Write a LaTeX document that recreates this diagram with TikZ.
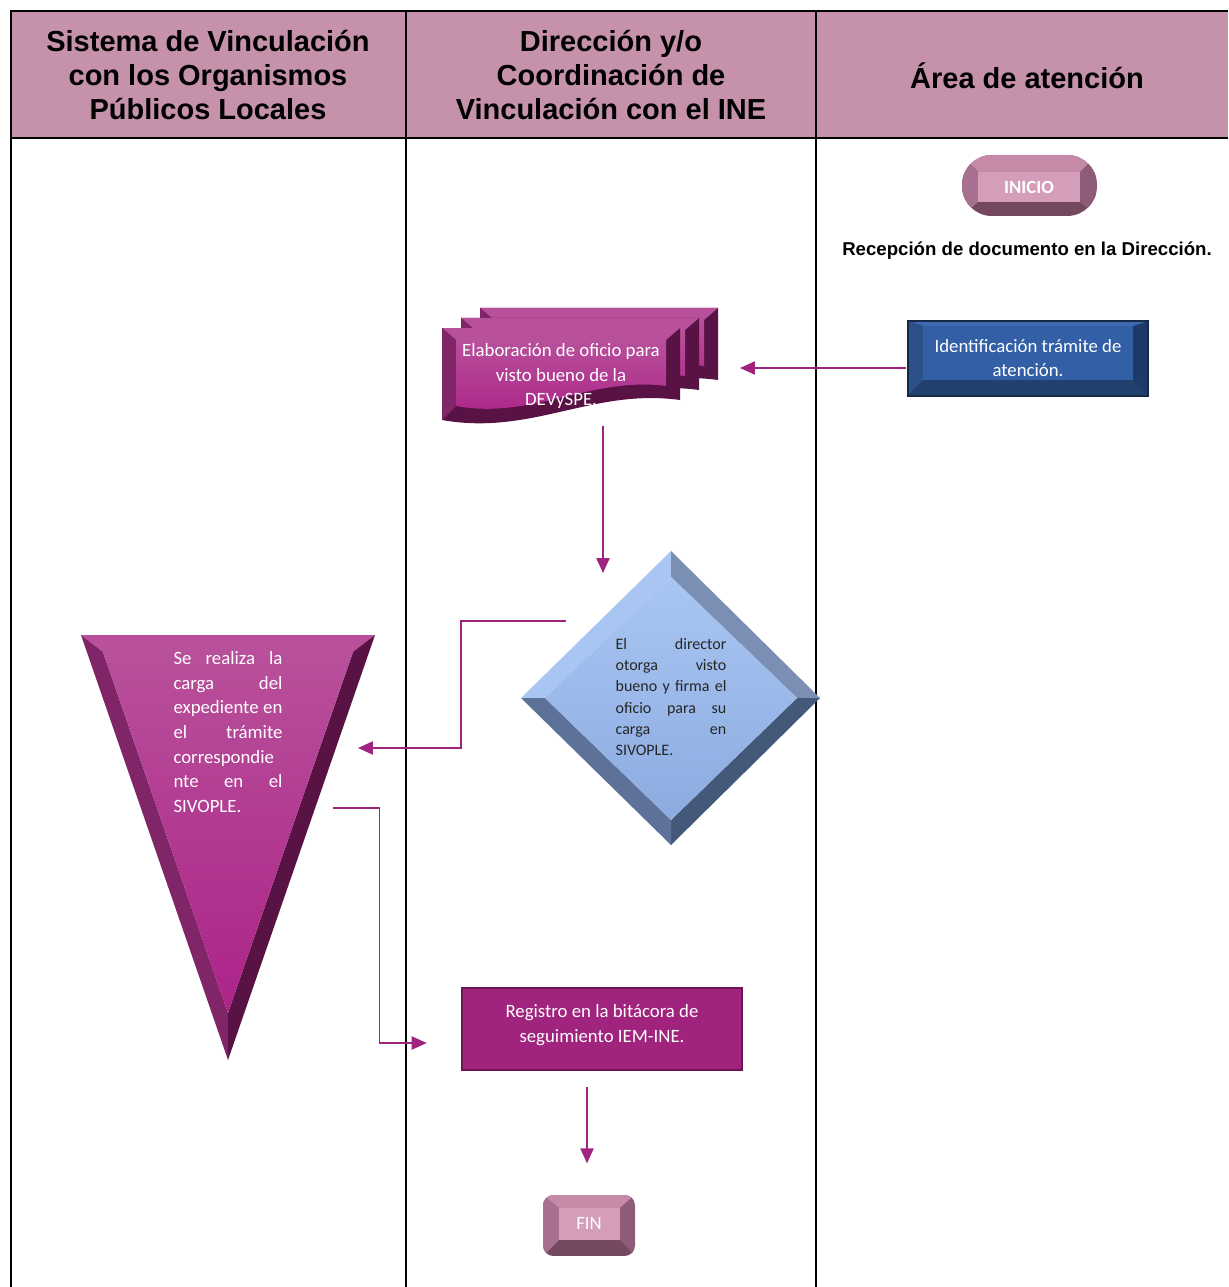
\documentclass[tikz,border=0pt]{standalone}
\usepackage{fontspec}
\setmainfont{Carlito}
\newfontfamily\headfont{Liberation Sans}
\usetikzlibrary{calc,arrows.meta}
\definecolor{headpink}{RGB}{197,145,171}
\definecolor{flowpink}{RGB}{160,35,127}
\definecolor{iniface}{RGB}{212,157,186}
\definecolor{initop}{RGB}{196,138,168}
\definecolor{inileft}{RGB}{167,112,144}
\definecolor{iniright}{RGB}{142,91,120}
\definecolor{inibot}{RGB}{116,72,95}
\definecolor{idface}{RGB}{51,95,166}
\definecolor{idtop}{RGB}{62,106,176}
\definecolor{idleft}{RGB}{44,81,137}
\definecolor{idright}{RGB}{31,58,102}
\definecolor{idbot}{RGB}{34,64,110}
\definecolor{magface}{RGB}{172,35,136}
\definecolor{magtop}{RGB}{184,80,155}
\definecolor{magleft}{RGB}{127,37,104}
\definecolor{magdark}{RGB}{88,18,68}
\definecolor{decface}{RGB}{140,171,224}
\definecolor{dectl}{RGB}{169,198,242}
\definecolor{dectr}{RGB}{123,143,181}
\definecolor{decbr}{RGB}{68,88,122}
\definecolor{decbl}{RGB}{94,113,153}
\definecolor{regfill}{RGB}{160,35,125}
\definecolor{regline}{RGB}{110,20,88}

\begin{document}
\begin{tikzpicture}[x=0.02cm,y=-0.02cm]
  \tikzstyle{head}=[font=\headfont\bfseries\fontsize{16.5}{19.3}\selectfont,align=center,inner sep=0pt]
  \tikzstyle{body}=[font=\fontsize{10.7}{14}\selectfont,text=white,align=center,inner sep=0pt]
  \tikzstyle{flow}=[draw=flowpink,line width=0.8pt,-{Triangle[length=8.5pt,width=7.5pt]}]

  \useasboundingbox (0,0) rectangle (1228,1287);

  \fill[headpink] (11,11) rectangle (1228,138);
  \draw[line width=1pt] (11,1287) -- (11,11) -- (1228,11);
  \draw[line width=1pt] (11,138) -- (1228,138);
  \draw[line width=1pt] (406,11) -- (406,1287);
  \draw[line width=1pt] (816,11) -- (816,1287);

  \node[head] (colsis) at (208,75) {Sistema de Vinculación\\con los Organismos\\Públicos Locales};
  \node[head] (coldir) at (611,75) {Dirección y/o\\Coordinación de\\Vinculación con el INE};
  \node[head] (colarea) at (1027,76) {Área de atención};

  % inicio
  \begin{scope}
    \clip[rounded corners=17pt] (962,155) rectangle (1097,216);
    \fill[inibot] (962,155) rectangle (1097,216);
    \fill[initop] (962,155) -- (1097,155) -- (1080,172) -- (978,172) -- cycle;
    \fill[inileft] (962,155) -- (978,172) -- (978,202) -- (962,216) -- cycle;
    \fill[iniright] (1097,155) -- (1080,172) -- (1080,202) -- (1097,216) -- cycle;
    \fill[iniface] (978,172) rectangle (1080,202);
  \end{scope}
  \node[body,font=\bfseries\fontsize{10.6}{12}\selectfont] (inicio) at (1029,187) {INICIO};

  \node[inner sep=0pt,font=\headfont\bfseries\fontsize{10.6}{12}\selectfont] (recep) at (1027,251) {Recepción de documento en la Dirección.};

  % identificacion
  \fill[idright] (908,321) rectangle (1148,396);
  \fill[idtop] (908,321) -- (1148,321) -- (1133,326) -- (923,326) -- cycle;
  \fill[idleft] (908,321) -- (923,326) -- (923,380) -- (908,396) -- cycle;
  \fill[idbot] (908,396) -- (923,380) -- (1133,380) -- (1148,396) -- cycle;
  \fill[idface] (923,326) rectangle (1133,380);
  \draw[idright!70!black,line width=0.6pt] (908,321) rectangle (1148,396);
  \node[body,font=\fontsize{10.7}{13.6}\selectfont,minimum width=4.8cm,minimum height=1.5cm] (ident) at (1028,358) {Identificación trámite de\\atención.};

  % elaboracion
  \foreach \dx/\dy in {38/-20,19/-10,0/0}{
    \begin{scope}[shift={(442+\dx,328+\dy)}]
      \fill[magdark] (0,0) -- (238,0) -- (238,72) .. controls (150,60) and (90,108) .. (0,92) -- cycle;
      \fill[magtop] (0,0) -- (238,0) -- (224,12) -- (14,12) -- cycle;
      \fill[magleft] (0,0) -- (14,12) -- (14,78) -- (0,92) -- cycle;
      \shade[top color=magtop,bottom color=magface] (14,12) -- (224,12) -- (224,58) .. controls (150,48) and (90,92) .. (14,78) -- cycle;
    \end{scope}
  }
  \node[body] (elab) at (561,376) {Elaboración de oficio para\\visto bueno de la\\DEVySPE.};

  % decision
  \fill[dectl] (671,551) -- (521,698) -- (545,698) -- (671,577) -- cycle;
  \fill[dectr] (671,551) -- (820,698) -- (797,698) -- (671,577) -- cycle;
  \fill[decbr] (820,698) -- (671,845) -- (671,820) -- (797,698) -- cycle;
  \fill[decbl] (521,698) -- (671,845) -- (671,820) -- (545,698) -- cycle;
  \shade[top color=dectl,bottom color=decface] (671,577) -- (797,698) -- (671,820) -- (545,698) -- cycle;
  \node[body,text=black!85,align=left,text width=63pt,font=\fontsize{9.1}{12}\selectfont] (dec) at (671,697)
    {El\hfill director\\otorga\hfill visto\\\mbox{bueno y firma el}\\oficio\hfill para\hfill su\\carga\hfill en\\SIVOPLE.};

  % carga
  \fill[magtop] (81,635) -- (375,635) -- (353,652) -- (103,652) -- cycle;
  \fill[magleft] (81,635) -- (103,652) -- (228,1013) -- (228,1060) -- cycle;
  \fill[magdark] (375,635) -- (353,652) -- (228,1013) -- (228,1060) -- cycle;
  \shade[top color=magtop,bottom color=magface] (103,652) -- (353,652) -- (228,1013) -- cycle;
  \node[body,align=left,text width=62pt,font=\fontsize{10.7}{14}\selectfont] (tri) at (228,732)
    {Se\hfill realiza\hfill la\\carga\hfill del\\expediente\hfill en\\el\hfill trámite\\correspondie\\nte\hfill en\hfill el\\SIVOPLE.};

  % registro
  \fill[regfill] (462,988) rectangle (742,1070);
  \draw[regline,line width=1pt] (462,988) rectangle (742,1070);
  \node[body,minimum width=5.6cm,minimum height=1.64cm] (reg) at (602,1025)
    {Registro en la bitácora de\\seguimiento IEM-INE.};

  % fin
  \begin{scope}
    \clip[rounded corners=6pt] (543,1195) rectangle (635,1256);
    \fill[inibot] (543,1195) rectangle (635,1256);
    \fill[initop] (543,1195) -- (635,1195) -- (620,1208) -- (559,1208) -- cycle;
    \fill[inileft] (543,1195) -- (559,1208) -- (559,1240) -- (543,1256) -- cycle;
    \fill[iniright] (635,1195) -- (620,1208) -- (620,1240) -- (635,1256) -- cycle;
    \fill[iniface] (559,1208) rectangle (620,1240);
  \end{scope}
  \node[body] (fin) at (589,1223) {FIN};

  \draw[flow] ($(ident.west)+(-2,10)$) -- ($(elab)+(179,-8)$);
  \draw[flow] ($(elab)+(42,50)$) -- ($(dec)+(-68,-124)$);
  \draw[flow] ($(dec)+(-105,-76)$) -| ($(tri)+(233,16)$) -- ($(tri)+(130,16)$);
  \draw[flow] ($(tri)+(105,76)$) -| ($(reg.west)+(-82,18)$) -- ($(reg.west)+(-35,18)$);
  \draw[flow] ($(reg.south)+(-15,21)$) -- ($(reg.south)+(-15,97)$);
\end{tikzpicture}
\end{document}
